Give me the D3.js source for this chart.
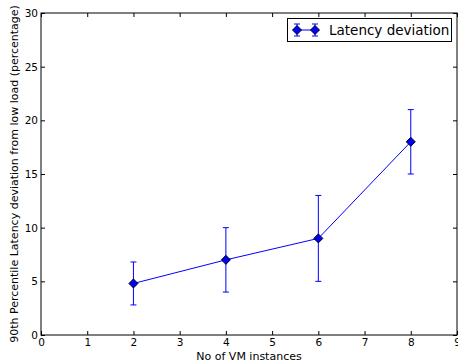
<!DOCTYPE html>
<html><head><meta charset="utf-8">
<script src="https://cdn.jsdelivr.net/npm/d3@7"></script>
<style>body{margin:0;background:#fff}svg{display:block}</style>
</head><body>
<script>
const vmInstances = [2, 4, 6, 8];
const latencyDeviation = [4.8, 7, 9, 18];
const errorMargin = [2, 3, 4, 3];
const xTicks = [0,1,2,3,4,5,6,7,8,9];
const yTicks = [0,5,10,15,20,25,30];
const seriesName = "Latency deviation";

const W = 458, H = 364;
const m = {left: 41, right: 1, top: 13, bottom: 29};
const svg = d3.select("body").append("svg").attr("width", W).attr("height", H)
  .style("font-family", "'DejaVu Sans', sans-serif");
const x = d3.scaleLinear().domain([0, 9]).range([m.left, W - m.right]);
const y = d3.scaleLinear().domain([0, 30]).range([H - m.bottom, m.top]);
const blue = "#0000ff";

// frame
svg.append("rect").attr("x", x(0)).attr("y", y(30)).attr("width", x(9) - x(0)).attr("height", y(0) - y(30))
  .attr("fill", "none").attr("stroke", "#000").attr("stroke-width", 1);

// ticks
const tl = 4;
const gx = svg.append("g").attr("transform", `translate(0,${y(0)})`)
  .call(d3.axisBottom(x).tickValues(xTicks).tickSizeInner(-tl).tickSizeOuter(0).tickPadding(4));
const gxt = svg.append("g").attr("transform", `translate(0,${y(30)})`)
  .call(d3.axisTop(x).tickValues(xTicks).tickSizeInner(-tl).tickSizeOuter(0).tickFormat(""));
const gy = svg.append("g").attr("transform", `translate(${x(0)},0)`)
  .call(d3.axisLeft(y).tickValues(yTicks).tickSizeInner(-tl).tickSizeOuter(0).tickPadding(3));
const gyr = svg.append("g").attr("transform", `translate(${x(9)},0)`)
  .call(d3.axisRight(y).tickValues(yTicks).tickSizeInner(-tl).tickSizeOuter(0).tickFormat(""));
[gx, gxt, gy, gyr].forEach(g => {
  g.select(".domain").remove();
  g.selectAll("line").attr("stroke", "#000");
  g.selectAll("text").attr("font-size", 10.5).attr("fill", "#000").style("font-family", "'DejaVu Sans', sans-serif");
});

// axis labels
svg.append("text").attr("x", (x(0) + x(9)) / 2).attr("y", 360).attr("text-anchor", "middle")
  .attr("font-size", 11).text("No of VM instances");
svg.append("text").attr("transform", `translate(17.5,${(y(0) + y(30)) / 2}) rotate(-90)`)
  .attr("text-anchor", "middle").attr("font-size", 11)
  .text("90th Percentile Latency deviation from low load (percentage)");

const data = vmInstances.map((v, i) => ({x: v, y: latencyDeviation[i], e: errorMargin[i]}));

// line
svg.append("path").datum(data)
  .attr("d", d3.line().x(d => x(d.x)).y(d => y(d.y)))
  .attr("fill", "none").attr("stroke", blue).attr("stroke-width", 1);

// error bars
const cap = 3;
const eb = svg.append("g").selectAll("g").data(data).join("g").attr("stroke", blue).attr("stroke-width", 1);
eb.append("line").attr("x1", d => x(d.x)).attr("x2", d => x(d.x)).attr("y1", d => y(d.y - d.e)).attr("y2", d => y(d.y + d.e));
eb.append("line").attr("x1", d => x(d.x) - cap).attr("x2", d => x(d.x) + cap).attr("y1", d => y(d.y - d.e)).attr("y2", d => y(d.y - d.e));
eb.append("line").attr("x1", d => x(d.x) - cap).attr("x2", d => x(d.x) + cap).attr("y1", d => y(d.y + d.e)).attr("y2", d => y(d.y + d.e));

// markers
const diamond = (cx, cy, r) => `M${cx},${cy - r}L${cx + r},${cy}L${cx},${cy + r}L${cx - r},${cy}Z`;
svg.append("g").selectAll("path").data(data).join("path")
  .attr("d", d => diamond(x(d.x), y(d.y), 4.5))
  .attr("fill", blue).attr("stroke", "#000").attr("stroke-width", 1);

// legend
const lg = svg.append("g");
lg.append("rect").attr("x", 287.5).attr("y", 18.5).attr("width", 164).attr("height", 23)
  .attr("fill", "#fff").attr("stroke", "#000").attr("stroke-width", 1);
const lx1 = 297, lx2 = 315, ly = 30;
lg.append("line").attr("x1", lx1).attr("x2", lx2).attr("y1", ly).attr("y2", ly).attr("stroke", blue);
[lx1, lx2].forEach(cx => {
  lg.append("line").attr("x1", cx).attr("x2", cx).attr("y1", ly - 6).attr("y2", ly + 6).attr("stroke", blue);
  lg.append("line").attr("x1", cx - cap).attr("x2", cx + cap).attr("y1", ly - 6).attr("y2", ly - 6).attr("stroke", blue);
  lg.append("line").attr("x1", cx - cap).attr("x2", cx + cap).attr("y1", ly + 6).attr("y2", ly + 6).attr("stroke", blue);
  lg.append("path").attr("d", diamond(cx, ly, 4.5)).attr("fill", blue).attr("stroke", "#000");
});
lg.append("text").attr("x", 329).attr("y", ly).attr("dominant-baseline", "central").attr("font-size", 13.5).text(seriesName);
</script>
</body></html>
